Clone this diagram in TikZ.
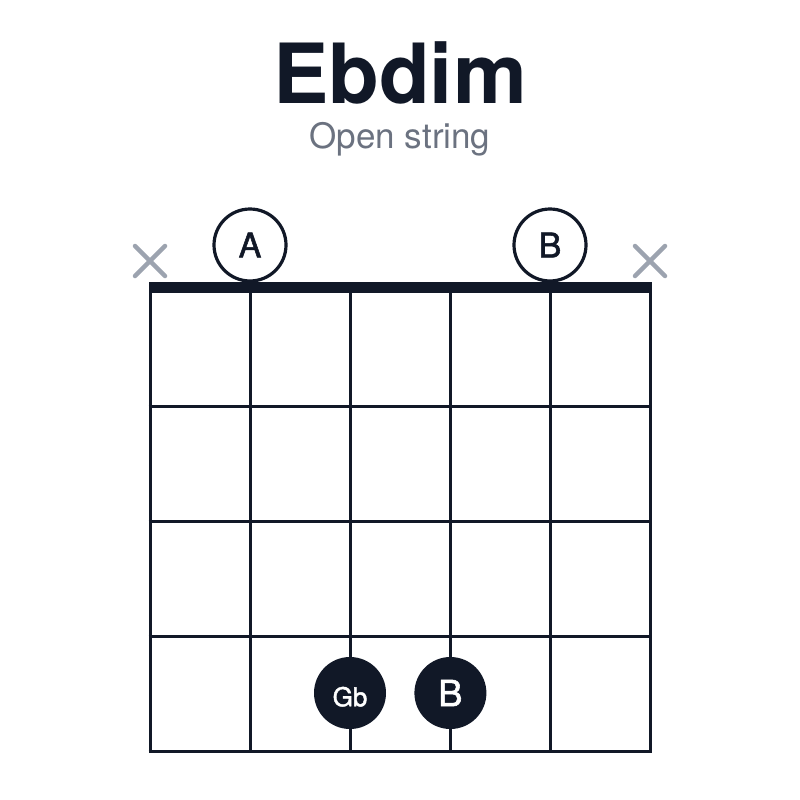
\documentclass[tikz,border=0pt]{standalone}
\usepackage{fontspec}
\setmainfont{TeX Gyre Heros}
\newfontfamily\notefont[FakeBold=1.6]{TeX Gyre Heros}
\usetikzlibrary{positioning}
\definecolor{ink}{HTML}{111827}
\definecolor{subgray}{HTML}{6B7280}
\definecolor{mutegray}{HTML}{9CA3AF}
\tikzset{x=1pt,y=-1pt,
    open note/.style={
        circle,
        draw=ink,
        line width=3.2pt,
        fill=white,
        minimum size=72pt,
        inner sep=0pt,
        text=ink,
        font=\notefont\fontsize{34}{34}\selectfont},
    fretted note/.style={
        circle,
        fill=ink,
        minimum size=72pt,
        inner sep=0pt,
        text=white,
        font=\notefont\fontsize{36}{36}\selectfont},
    muted/.style={
        draw=mutegray,
        line width=4.5pt,
        line cap=round},
    fret line/.style={
        draw=ink,
        line width=3pt}}

\begin{document}
\begin{tikzpicture}
        \useasboundingbox[fill=white] (0,0) rectangle (800,800);

        \node[anchor=base,text=ink,font=\fontsize{83}{83}\selectfont\bfseries] (title) at (400,103) {Ebdim};
        \node[anchor=base,text=subgray,font=\fontsize{35}{35}\selectfont] (subtitle) at (400,148) {Open string};

        % strings and frets
        \foreach \s in {150,250,...,650}
            \draw[fret line] (\s,291) -- (\s,751);
        \foreach \f in {406,521,636,751}
            \draw[fret line] (148.5,\f) -- (651.5,\f);
        \draw[fill=ink,draw=none] (148.5,282) rectangle (651.5,293);

        % muted strings
        \foreach \s in {150,650} {
            \draw[muted] (\s-15,246) -- (\s+15,276);
            \draw[muted] (\s-15,276) -- (\s+15,246);
        }

        % open strings
        \node[open note] (openA) at (250,245) {A};
        \node[open note] (openB) at (550,245) {B};

        % fretted notes
        \node[fretted note,font=\notefont\fontsize{26}{26}\selectfont,
              text height=26.5pt,text depth=0pt] (noteGb) at (350,693) {Gb};
        \node[fretted note,right=28pt of noteGb] (noteB) {B};
    \end{tikzpicture}
\end{document}
